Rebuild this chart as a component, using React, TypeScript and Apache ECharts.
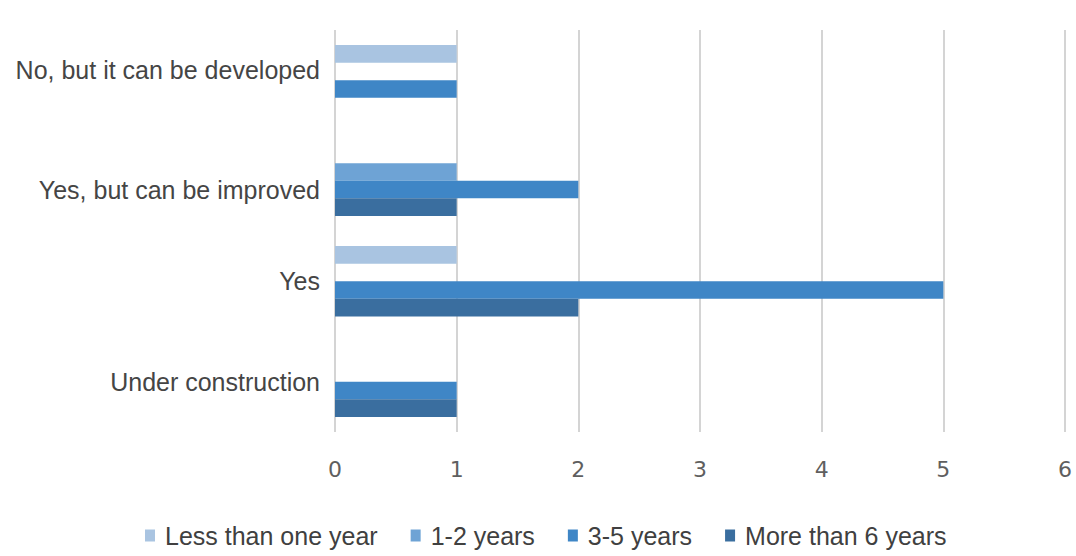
import React, { useEffect, useRef } from "react";
import * as echarts from "echarts";

const categories = [
  "No, but it can be developed",
  "Yes, but can be improved",
  "Yes",
  "Under construction",
];
const seriesNames = ["Less than one year", "1-2 years", "3-5 years", "More than 6 years"];
const lessThanOneYear = [1, 0, 1, 0];
const oneToTwoYears = [0, 1, 0, 0];
const threeToFiveYears = [1, 2, 5, 1];
const moreThanSixYears = [0, 1, 2, 1];
const xTicks = { min: 0, max: 6, interval: 1 };

const colors = ["#a9c4e1", "#6ea3d5", "#3f86c6", "#3a6e9f"];

// small vertical nudges of the category labels
const labelStyleKey = ["up", "down", "mid", "mid"];

export default function App() {
  const ref = useRef<HTMLDivElement>(null);
  useEffect(() => {
    if (!ref.current) return;
    const chart = echarts.init(ref.current, undefined, { renderer: "svg" });
    const values = [lessThanOneYear, oneToTwoYears, threeToFiveYears, moreThanSixYears];
    const labelFont = { fontSize: 25, color: "#454545" };
    chart.setOption({
      animation: false,
      backgroundColor: "#ffffff",
      color: colors,
      textStyle: { fontFamily: "Liberation Sans, Arial, sans-serif" },
      grid: { left: 335, right: 11, top: 30, bottom: 124, containLabel: false },
      xAxis: {
        type: "value",
        min: xTicks.min,
        max: xTicks.max,
        interval: xTicks.interval,
        axisLine: { show: false },
        axisTick: { show: false },
        splitLine: { show: true, lineStyle: { color: "#d4d4d4", width: 2 } },
        axisLabel: {
          color: "#5f5f5f",
          fontSize: 22,
          margin: 26,
          fontFamily: "DejaVu Sans, sans-serif",
        },
      },
      yAxis: {
        type: "category",
        data: categories,
        inverse: true,
        axisLine: { show: false },
        axisTick: { show: false },
        splitLine: { show: false },
        axisLabel: {
          margin: 15,
          ...labelFont,
          formatter: (value: string, idx: number) => `{${labelStyleKey[idx]}|${value}}`,
          rich: {
            up: { ...labelFont, padding: [0, 0, 20, 0] },
            down: { ...labelFont, padding: [18, 0, 0, 0] },
            mid: { ...labelFont },
          },
        },
      },
      legend: {
        bottom: 3,
        left: 140,
        itemWidth: 10,
        itemHeight: 12,
        itemGap: 33,
        icon: "rect",
        textStyle: { color: "#404040", fontSize: 25, padding: [0, 0, 0, 5] },
        data: seriesNames,
      },
      series: seriesNames.map((name, i) => ({
        name,
        type: "bar",
        data: values[i],
        barGap: "0%",
        barCategoryGap: "30%",
        itemStyle: { color: colors[i] },
      })),
    });
    return () => chart.dispose();
  }, []);
  return (
    <div
      ref={ref}
      style={{ position: "absolute", left: 0, top: 0, width: 1076, height: 556 }}
    />
  );
}
